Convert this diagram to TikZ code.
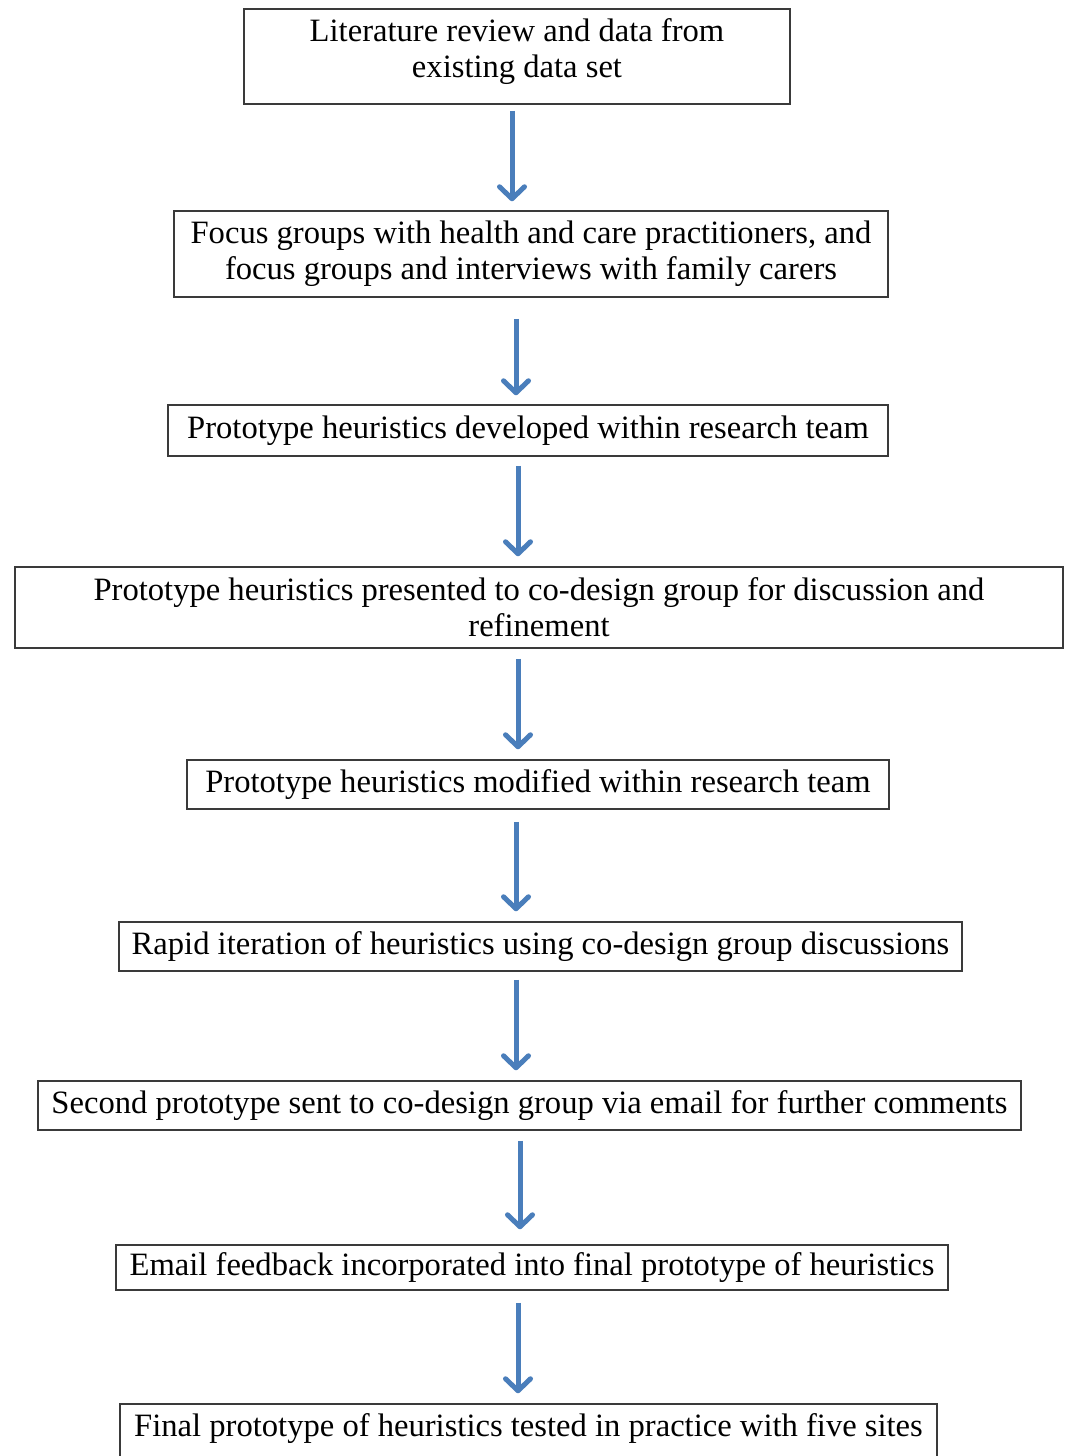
\documentclass[tikz,border=0pt]{standalone}
\usepackage{fontspec}
\setmainfont{Liberation Serif}
\usetikzlibrary{arrows.meta,calc}
\definecolor{arrowblue}{HTML}{4A7EBB}
\definecolor{boxgray}{HTML}{3A3A3A}
\begin{document}
\begin{tikzpicture}[x=1pt,y=-1pt,
  box/.style={draw=boxgray, line width=1.5pt, align=center, inner sep=0pt,
    font=\fontsize{32.6}{36}\selectfont},
  arr/.style={draw=arrowblue, line width=5pt,
    -{Straight Barb[length=12pt,width=25pt,round]}}]
\useasboundingbox (0,0) rectangle (1068,1456);
\clip (0,0) rectangle (1068,1456);
\fill[white] (0,0) rectangle (1068,1456);

\node[box, minimum width=546, minimum height=95] (b1) at (517,56.5)
  {\raisebox{4pt}[\height][\depth]{\begin{tabular}{@{}c@{}}Literature review and data from\\existing data set\end{tabular}}};
\node[box, minimum width=714, minimum height=86] (b2) at (531,254)
  {Focus groups with health and care practitioners, and\\focus groups and interviews with family carers};
\node[box, minimum width=720, minimum height=51] (b3) at (528,430.5)
  {Prototype heuristics developed within research team};
\node[box, minimum width=1048, minimum height=81] (b4) at (539,607.5)
  {Prototype heuristics presented to co-design group for discussion and\\refinement};
\node[box, minimum width=702, minimum height=49] (b5) at (538,784.5)
  {Prototype heuristics modified within research team};
\node[box, minimum width=843, minimum height=49] (b6) at (540.5,946.5)
  {Rapid iteration of heuristics using co-design group discussions};
\node[box, minimum width=983, minimum height=49] (b7) at (529.5,1105.5)
  {Second prototype sent to co-design group via email for further comments};
\node[box, minimum width=832, minimum height=45] (b8) at (532,1267.5)
  {Email feedback incorporated into final prototype of heuristics};
\node[box, minimum width=817, minimum height=72] (b9) at (528.5,1440)
  {\raisebox{11pt}[\height][\depth]{Final prototype of heuristics tested in practice with five sites}};

\draw[arr] ($(b1.south)+(-5,6)$) -- ($(b2.north)+(-19,-9)$);
\draw[arr] ($(b2.south)+(-15,21)$) -- ($(b3.north)+(-12,-9)$);
\draw[arr] ($(b3.south)+(-10,9)$) -- ($(b4.north)+(-21,-10)$);
\draw[arr] ($(b4.south)+(-21,10)$) -- ($(b5.north)+(-20,-10)$);
\draw[arr] ($(b5.south)+(-22,12)$) -- ($(b6.north)+(-24.5,-10)$);
\draw[arr] ($(b6.south)+(-24.5,8)$) -- ($(b7.north)+(-13.5,-10)$);
\draw[arr] ($(b7.south)+(-9.5,10)$) -- ($(b8.north)+(-12,-15)$);
\draw[arr] ($(b8.south)+(-14,12)$) -- ($(b9.north)+(-10.5,-10)$);
\end{tikzpicture}
\end{document}
